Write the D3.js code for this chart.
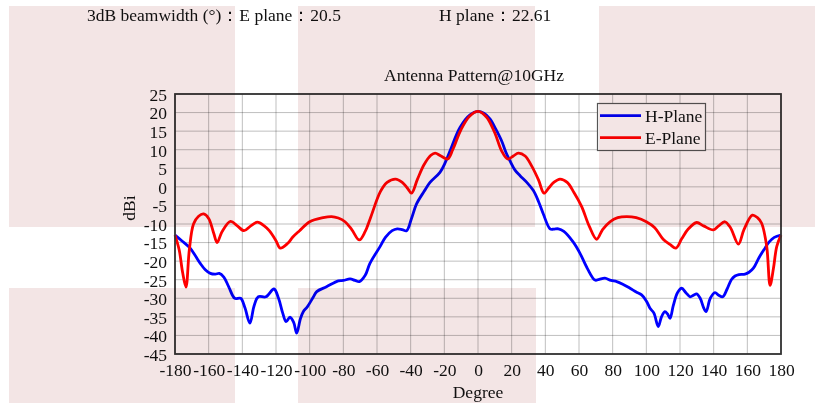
<!DOCTYPE html>
<html><head><meta charset="utf-8">
<script src="https://cdn.jsdelivr.net/npm/d3@7"></script>
<style>
html,body{margin:0;padding:0;background:#fff;}
svg text{font-family:"Liberation Serif","Times New Roman",serif;fill:#111;}
</style></head>
<body>
<svg id="c" width="815" height="404"></svg>
<script>
// ---- data ----
const xTicks = [-180,-160,-140,-120,-100,-80,-60,-40,-20,0,20,40,60,80,100,120,140,160,180];
const yTicks = [-45,-40,-35,-30,-25,-20,-15,-10,-5,0,5,10,15,20,25];
const seriesNames = ["H-Plane","E-Plane"];
const hDeg = [-180,-176,-171,-168,-165,-162,-159,-156,-153.7,-151,-148,-144.5,-141,-138.5,-135.5,-133,-130.5,-126,-121.2,-118.5,-116,-114,-111.7,-109.5,-107.7,-105.5,-103.8,-101.4,-98,-95.8,-90,-83,-80,-76,-73,-70.5,-67,-64.2,-58.2,-55,-51,-48,-45,-42.4,-39.5,-36.5,-32,-28.5,-22.6,-19.5,-16.6,-10.7,-4.75,0,3.5,7.1,10.5,14,16.5,19,22,25,29,32.9,36,38.8,42.8,45,47.7,51,56.6,60.6,65,69.5,72,75.4,79,82.4,86,90.3,94,97.2,100,102.2,104.5,107.1,109,111,112.6,114.1,116,118.5,121,123.5,126,128,129.9,132,134,135.5,138,140.8,143,145.4,148,150.5,152.7,155,158.6,161,163.6,167,170.5,173,176,180];
const hVal = [-13,-14.5,-16.5,-18.5,-20.6,-22.3,-23.3,-23.5,-23.3,-24.3,-27,-30,-30,-32.5,-36.7,-32,-29.6,-29.6,-27.5,-30,-34,-36.3,-35.1,-36.5,-39.4,-35.5,-33.6,-32.3,-29.8,-28.2,-26.9,-25.3,-25.2,-24.8,-25.2,-25.5,-23.8,-20.6,-16.1,-13.6,-11.8,-11.3,-11.5,-11.8,-8.5,-4.6,-1.2,1.2,3.9,6.5,9.7,16,19.4,20.3,19.8,18.3,15.6,12.4,9.4,7,4.5,3,1.2,-1,-4,-7.3,-11.3,-11.4,-11.3,-12,-14.9,-17.9,-22,-25.1,-24.9,-24.6,-25.2,-25.5,-26.2,-27.3,-28.3,-29.1,-30.7,-32.7,-34,-37.6,-35,-33.6,-34.2,-35.4,-32,-28.5,-27.3,-28.5,-29.6,-29.2,-28.8,-30,-32.5,-33.6,-30,-28.5,-29.2,-29.6,-27.5,-25,-24,-23.6,-23.5,-23,-21.9,-19,-16.5,-14.8,-13.6,-13];
const eDeg = [-180,-177.5,-175.5,-173.5,-171.5,-169,-166,-163,-160,-157,-155,-152,-147,-143,-139,-135,-131,-127,-124,-120,-117.5,-113,-110,-106,-100,-92,-87,-83,-79,-75,-70.5,-67,-64,-58,-54,-49,-45,-42,-39.5,-36,-32,-28,-25.5,-22,-18,-15,-10,-5,0,5,10,14,17.6,21,24,28,32,36,39.2,42,45,48.7,53,57,61.6,66,70.5,74,78.4,83,88.3,94,100,105,110,114,117.6,121,125,129.9,134,139.8,143,146.7,150,154.7,158,163,166,168.5,171.5,173.5,175.5,177.5,180];
const eVal = [-13,-17,-23,-27,-17,-10,-7.9,-7.3,-8.5,-12.5,-15,-12,-9.3,-10.5,-11.8,-10.5,-9.5,-10.5,-11.8,-14.5,-16.5,-15.2,-13.5,-11.8,-9.4,-8.3,-8,-8.4,-9.4,-11.5,-14.3,-12,-8.5,-1.3,1.2,2.1,1.2,-0.3,-1.7,2,6,8.5,9.1,8.3,7.5,10,15.5,19,20.3,18.8,14.5,9.7,7.5,8.3,9.1,8.3,5.5,1.8,-1.7,-0.3,1.2,2.1,1.2,-1.5,-5.3,-10.5,-14.1,-11.5,-9.4,-8.3,-8,-8.3,-9.4,-11,-14.1,-15.5,-16.5,-14,-11.3,-9.6,-10.5,-11.6,-10.5,-9.4,-11,-15.4,-11.5,-7.6,-8.3,-9.8,-16,-26.5,-22,-16,-13];

// ---- layout ----
const svg = d3.select("#c");
const L = 175, R = 781, T = 94, B = 354;
const x = d3.scaleLinear().domain([-180,180]).range([L,R]);
const y = d3.scaleLinear().domain([-45,25]).range([B,T]);
const fmt = d => String(d);

// header texts
svg.append("text").attr("x",87).attr("y",21).attr("font-size",17.5).text("3dB beamwidth (°)：E plane：20.5");
svg.append("text").attr("x",439).attr("y",21).attr("font-size",17.5).text("H plane：22.61");
svg.append("text").attr("x",474).attr("y",81).attr("text-anchor","middle").attr("font-size",17.5).text("Antenna Pattern@10GHz");

// grid
const g = svg.append("g");
g.selectAll("line.v").data(xTicks).join("line").attr("class","v")
  .attr("x1",d=>x(d)).attr("x2",d=>x(d)).attr("y1",T).attr("y2",B)
  .attr("stroke","#000").attr("stroke-opacity",0.25).attr("stroke-width",1);
g.selectAll("line.h").data(yTicks).join("line").attr("class","h")
  .attr("x1",L).attr("x2",R).attr("y1",d=>y(d)).attr("y2",d=>y(d))
  .attr("stroke","#000").attr("stroke-opacity",0.25).attr("stroke-width",1);

// axes
const ax = svg.append("g").attr("transform",`translate(0,${B})`)
  .call(d3.axisBottom(x).tickValues(xTicks).tickSize(0).tickPadding(10).tickFormat(fmt));
const ay = svg.append("g").attr("transform",`translate(${L},0)`)
  .call(d3.axisLeft(y).tickValues(yTicks).tickSize(0).tickPadding(8).tickFormat(fmt));
[ax,ay].forEach(a=>{a.select(".domain").remove();a.selectAll("text").attr("font-size",17.5).attr("font-family","Liberation Serif").attr("fill","#111");});
ay.selectAll("text").attr("dy","0.36em");

// curves
const line = d3.line().x(d=>x(d[0])).y(d=>y(d[1])).curve(d3.curveCatmullRom.alpha(0.5));
const hData = hDeg.map((d,i)=>[d,hVal[i]]);
const eData = eDeg.map((d,i)=>[d,eVal[i]]);
svg.append("path").datum(hData).attr("d",line).attr("fill","none").attr("stroke","#0000ff").attr("stroke-width",2.8).attr("stroke-linejoin","round");
svg.append("path").datum(eData).attr("d",line).attr("fill","none").attr("stroke","#ff0000").attr("stroke-width",2.8).attr("stroke-linejoin","round");

// frame
svg.append("rect").attr("x",L).attr("y",T).attr("width",R-L).attr("height",B-T)
  .attr("fill","none").attr("stroke","#333").attr("stroke-width",1.8);

// axis titles
svg.append("text").attr("transform","translate(135,208) rotate(-90)").attr("text-anchor","middle").attr("font-size",17.5).text("dBi");
svg.append("text").attr("x",478).attr("y",398).attr("text-anchor","middle").attr("font-size",17.5).text("Degree");

// legend
const lg = svg.append("g");
lg.append("rect").attr("x",597.5).attr("y",103.5).attr("width",108).attr("height",47)
  .attr("fill","#fff").attr("stroke","#555").attr("stroke-width",1.2);
const colors = ["#0000ff","#ff0000"];
seriesNames.forEach((n,i)=>{
  const yy = 115.7 + i*22;
  lg.append("line").attr("x1",600).attr("x2",641).attr("y1",yy).attr("y2",yy).attr("stroke",colors[i]).attr("stroke-width",2.8);
  lg.append("text").attr("x",645).attr("y",yy+6).attr("font-size",17.5).text(n);
});

// pink watermark blocks (multiply overlay)
const blocks = [[9,6,235,227],[298,6,535,227],[599,6,815,227],[9,288,235,403],[298,288,536,403]];
svg.append("g").selectAll("rect").data(blocks).join("rect")
  .attr("x",d=>d[0]).attr("y",d=>d[1]).attr("width",d=>d[2]-d[0]).attr("height",d=>d[3]-d[1])
  .attr("fill","#f3e5e5").style("mix-blend-mode","multiply");
</script>
</body></html>
